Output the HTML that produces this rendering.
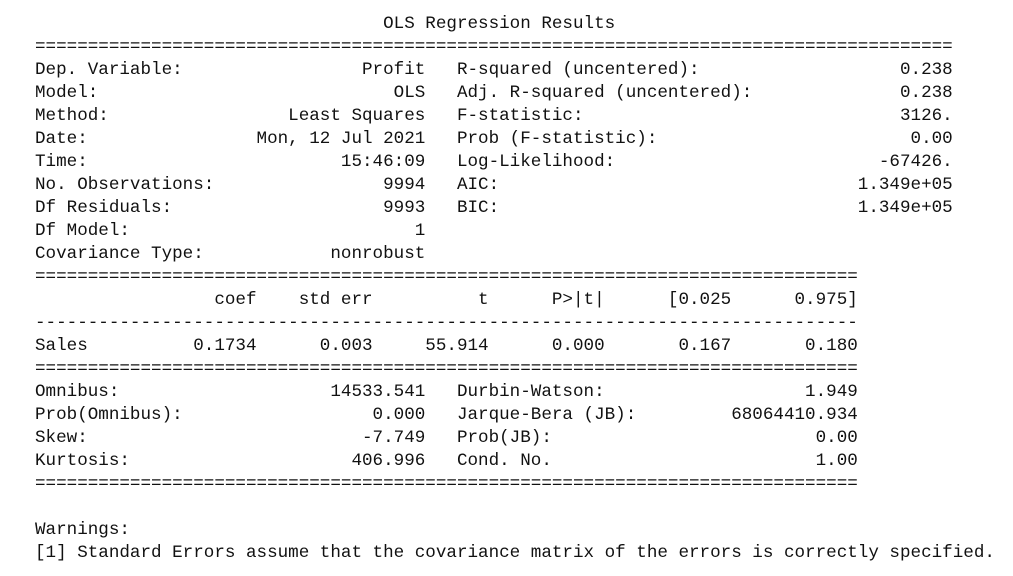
<!DOCTYPE html>
<html><head><meta charset="utf-8">
<style>
html,body{margin:0;padding:0;background:#fff;width:1013px;height:576px;overflow:hidden}
pre{position:absolute;left:35px;top:13px;margin:0;font-family:"Liberation Mono",monospace;font-size:17.58px;line-height:23px;color:#111;white-space:pre}
</style></head>
<body>
<pre id="out"></pre>
<script>
const topRows=[
["Dep. Variable:","Profit","R-squared (uncentered):","0.238"],
["Model:","OLS","Adj. R-squared (uncentered):","0.238"],
["Method:","Least Squares","F-statistic:","3126."],
["Date:","Mon, 12 Jul 2021","Prob (F-statistic):","0.00"],
["Time:","15:46:09","Log-Likelihood:","-67426."],
["No. Observations:","9994","AIC:","1.349e+05"],
["Df Residuals:","9993","BIC:","1.349e+05"],
["Df Model:","1","",""],
["Covariance Type:","nonrobust","",""]];
const coefHeader=["coef","std err","t","P>|t|","[0.025","0.975]"];
const coefRow=["Sales","0.1734","0.003","55.914","0.000","0.167","0.180"];
const botRows=[
["Omnibus:","14533.541","Durbin-Watson:","1.949"],
["Prob(Omnibus):","0.000","Jarque-Bera (JB):","68064410.934"],
["Skew:","-7.749","Prob(JB):","0.00"],
["Kurtosis:","406.996","Cond. No.","1.00"]];
function row(r,w2){
  let s=r[0]+r[1].padStart(37-r[0].length);
  if(r[2]) s+="   "+r[2]+r[3].padStart(w2-40-r[2].length);
  return s;
}
const L=[];
L.push(" ".repeat(33)+"OLS Regression Results");
L.push("=".repeat(87));
topRows.forEach(r=>L.push(row(r,87)));
L.push("=".repeat(78));
L.push(" ".repeat(17)+coefHeader[0]+coefHeader[1].padStart(11)+coefHeader[2].padStart(11)+coefHeader[3].padStart(11)+coefHeader[4].padStart(12)+coefHeader[5].padStart(12));
L.push("-".repeat(78));
L.push(coefRow[0].padEnd(15)+coefRow[1].padStart(6)+coefRow[2].padStart(11)+coefRow[3].padStart(11)+coefRow[4].padStart(11)+coefRow[5].padStart(12)+coefRow[6].padStart(12));
L.push("=".repeat(78));
botRows.forEach(r=>L.push(row(r,78)));
L.push("=".repeat(78));
L.push("");
L.push("Warnings:");
L.push("[1] Standard Errors assume that the covariance matrix of the errors is correctly specified.");
const pre=document.getElementById('out');
L.forEach((t,i)=>{
  const sp=document.createElement('span');
  
  
  sp.textContent=t+"\n";
  pre.appendChild(sp);
});
</script>
</body></html>
